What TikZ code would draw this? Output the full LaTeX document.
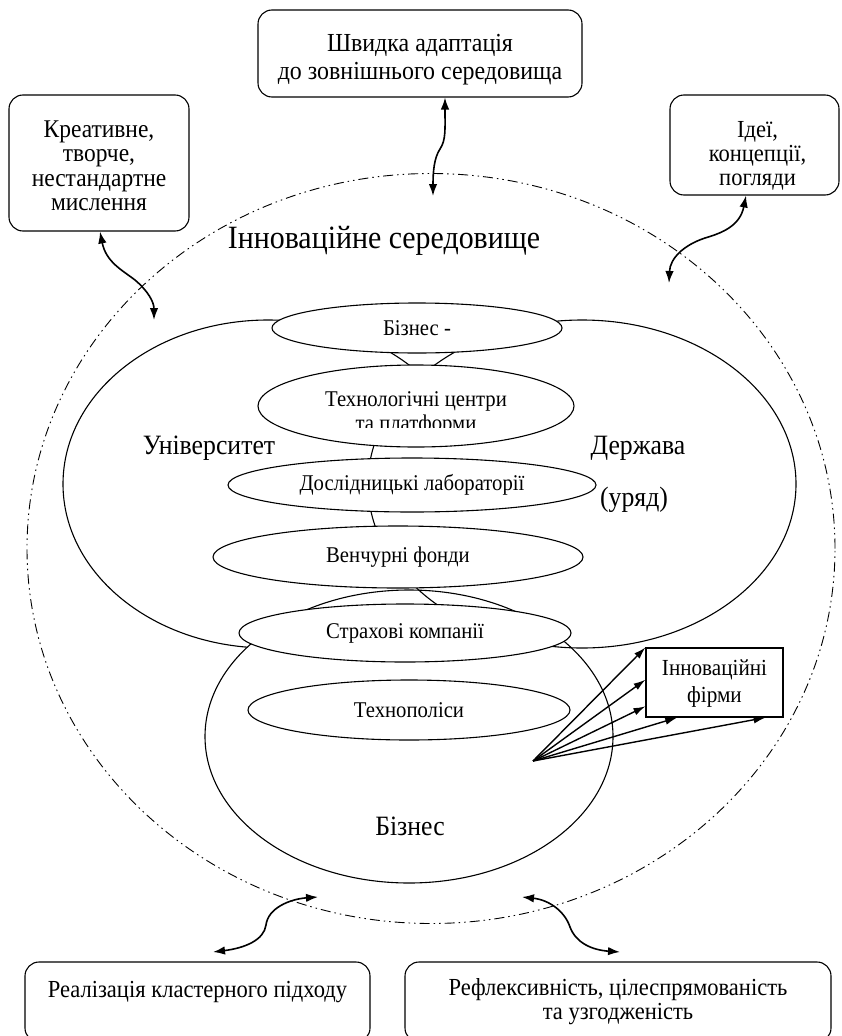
\documentclass[tikz,border=0pt]{standalone}
\usepackage{fontspec}
\setmainfont{Liberation Serif}[FakeStretch=0.92]
\usetikzlibrary{arrows.meta,shapes.geometric,calc}
\newcommand{\bxtext}[4]{\parbox[c][#1][t]{#2}{\centering\rule{0pt}{#3}#4}}
\begin{document}
\begin{tikzpicture}[x=1pt,y=-1pt,
  bigline/.style={line width=1.1pt},
  rbox/.style={draw, line width=1.1pt, rounded corners=14pt, inner sep=0pt},
  sbox/.style={draw, line width=1.1pt, inner sep=0pt},
  oval/.style={ellipse, draw, fill=white, line width=1.1pt, inner sep=0pt,
    font=\fontsize{22.5}{25}\selectfont},
  biglabel/.style={font=\fontsize{28}{30}\selectfont},
  wavy/.style={line width=1.6pt, {Latex[length=12pt,width=8.5pt]}-{Latex[length=12pt,width=8.5pt]}},
  fan/.style={line width=1.4pt, -{Latex[length=12pt,width=7.5pt]}},
  envline/.style={line width=0.9pt, dash pattern=on 10pt off 4pt on 1.5pt off 4pt on 1.5pt off 4pt}
]
\useasboundingbox (0,0) rectangle (841,1036);

% outer innovation environment
\draw[envline] (431,548.5) ellipse [x radius=404pt, y radius=375pt];

% University / State / Business
\draw[bigline] (268,484) ellipse [x radius=205pt, y radius=164pt];
\fill[white] (582,484) ellipse [x radius=214pt, y radius=164pt];
\fill[white] (409,736.5) ellipse [x radius=204pt, y radius=146.5pt];
\draw[bigline] (582,484) ellipse [x radius=214pt, y radius=164pt];
\draw[bigline] (409,736.5) ellipse [x radius=204pt, y radius=146.5pt];

% inner ovals
\node[oval, minimum width=290pt, minimum height=50pt] (e1) at (417,328) {Бізнес -};
\node[oval, minimum width=316pt, minimum height=82pt] (e2) at (416,406) {};
\begin{scope}
  \clip (250,360) rectangle (590,427.5);
  \node[align=center, font=\fontsize{22.5}{24}\selectfont, inner sep=0pt] (e2t) at (416,413) {Технологічні центри\\та платформи};
\end{scope}
\node[oval, minimum width=368pt, minimum height=54pt] (e3) at (412,485) {Дослідницькі лабораторії};
\node[oval, minimum width=370pt, minimum height=62pt] (e4) at (398,557) {Венчурні фонди};
\node[oval, minimum width=332pt, minimum height=58pt] (e5) at (405,633) {Страхові компанії};
\node[oval, minimum width=322pt, minimum height=60pt] (e6) at (409,710) {Технополіси};

% labels
\node[font=\fontsize{32.5}{34}\selectfont] (env) at (384,241) {Інноваційне середовище};
\node[biglabel] (uni) at (209,448) {Університет};
\node[biglabel] (gov) at (638,448) {Держава};
\node[biglabel] (gov2) at (634,500) {(уряд)};
\node[biglabel] (bus) at (410,826) {Бізнес};

% outer boxes
\node[rbox, minimum width=324pt, minimum height=87pt, font=\fontsize{26}{28}\selectfont] (tb) at (420,53.5)
  {\bxtext{87pt}{320pt}{41pt}{Швидка адаптація\\до зовнішнього середовища}};
\node[rbox, minimum width=180pt, minimum height=136pt, font=\fontsize{25.5}{24.5}\selectfont] (lb) at (99,163)
  {\bxtext{136pt}{176pt}{42pt}{Креативне,\\творче,\\нестандартне\\мислення}};
\node[rbox, minimum width=169pt, minimum height=100pt, font=\fontsize{24.5}{24}\selectfont] (rb) at (754.5,145)
  {\bxtext{100pt}{165pt}{42pt}{\hspace*{6pt}Ідеї,\\\hspace*{6pt}концепції,\\\hspace*{6pt}погляди}};
\node[rbox, minimum width=345pt, minimum height=80pt, font=\fontsize{24.5}{23}\selectfont] (blb) at (197.5,1002)
  {\bxtext{80pt}{341pt}{35pt}{Реалізація кластерного підходу}};
\node[rbox, minimum width=426pt, minimum height=80pt, font=\fontsize{24.5}{24}\selectfont] (brb) at (618,1002)
  {\bxtext{80pt}{422pt}{33pt}{Рефлексивність, цілеспрямованість\\та узгодженість}};
\node[sbox, minimum width=137pt, minimum height=69pt, font=\fontsize{23}{27}\selectfont] (if) at (714.5,682.5)
  {\bxtext{69pt}{133pt}{27pt}{Інноваційні\\фірми}};

% wavy double arrows
\coordinate (a1) at (445,97.5);
\coordinate (a1e) at (433,196);
\draw[wavy] (a1) .. controls (445,130) and (446,140) .. (440,149) .. controls (434,158) and (433,172) .. (a1e);

\coordinate (a2) at (100,231.5);
\coordinate (a2e) at (154,320);
\draw[wavy] (a2) .. controls (106,262) and (122,270) .. (135,280) .. controls (148,291) and (154,302) .. (a2e);

\coordinate (a3) at (746,195.5);
\coordinate (a3e) at (669,283);
\draw[wavy] (a3) .. controls (740,226) and (722,233) .. (705,238) .. controls (684,245) and (670,258) .. (a3e);

\coordinate (a4) at (213,952);
\coordinate (a4e) at (318,897);
\draw[wavy] (a4) .. controls (245,948) and (264,940) .. (266,925) .. controls (268,908) and (290,899) .. (a4e);

\coordinate (a5) at (522,897);
\coordinate (a5e) at (620,952);
\draw[wavy] (a5) .. controls (550,900) and (565,912) .. (570,927) .. controls (576,943) and (592,950) .. (a5e);

% fan of arrows to innovative firms
\coordinate (fo) at (533,761);
\draw[fan] (fo) -- (if.north west);
\draw[fan] (fo) -- ($(if.north west)!0.46!(if.south west)$);
\draw[fan] (fo) -- ($(if.north west)!0.84!(if.south west)$);
\draw[fan] (fo) -- ($(if.south west)!0.23!(if.south east)$);
\draw[fan] (fo) -- ($(if.south west)!0.87!(if.south east)$);
\end{tikzpicture}
\end{document}
